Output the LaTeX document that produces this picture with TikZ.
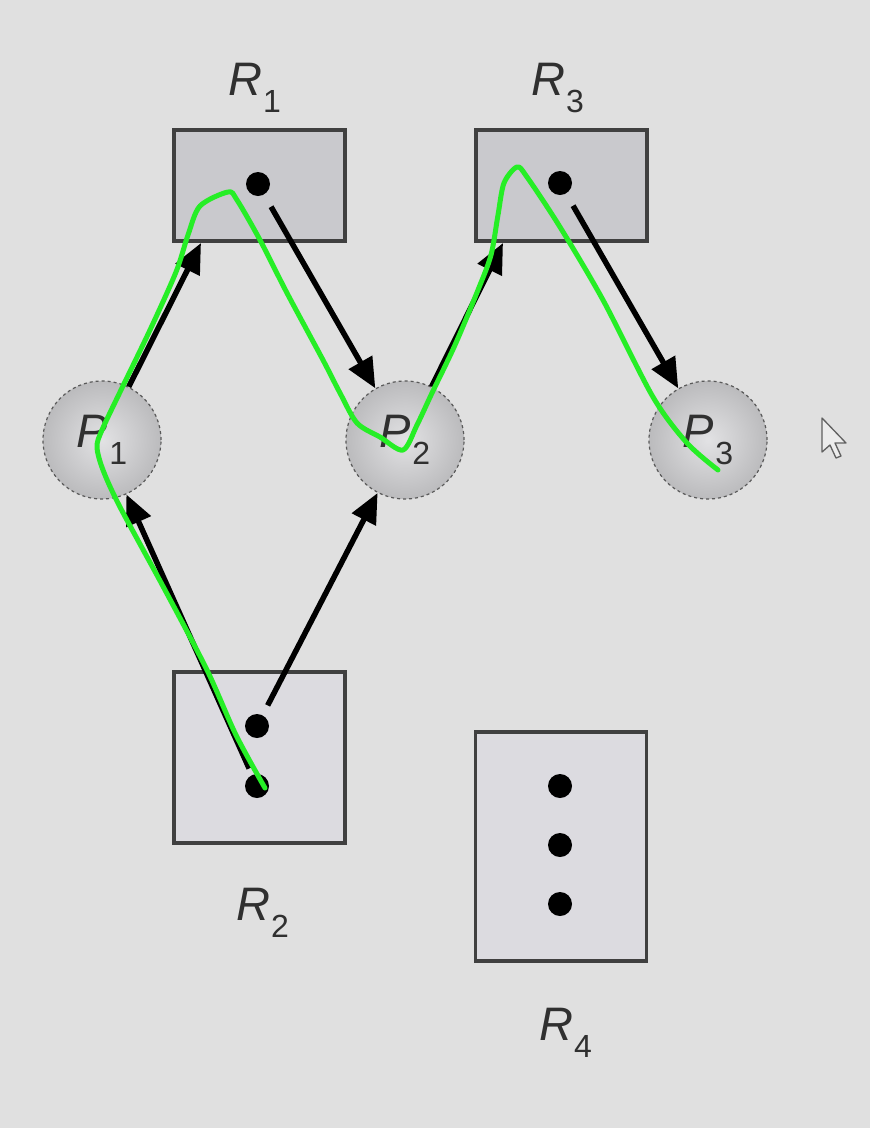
\documentclass[tikz,border=0pt]{standalone}
\usepackage{fontspec}
\setmainfont{Liberation Sans}
\usetikzlibrary{arrows.meta}
\definecolor{bg}{HTML}{E0E0E0}
\definecolor{boxdark}{HTML}{C9C9CD}
\definecolor{boxlight}{HTML}{DCDBE0}
\definecolor{edge}{HTML}{404040}
\definecolor{txt}{HTML}{303030}
\definecolor{hand}{HTML}{26EE26}
\definecolor{ballin}{HTML}{E2E2E4}
\definecolor{ballout}{HTML}{BBBBBD}
\newcommand{\lbl}[2]{\fontsize{47}{50}\selectfont\textit{#1}\kern1pt\raisebox{-17pt}{\fontsize{32}{34}\selectfont #2}}
\tikzset{
  resbox/.style={draw=edge, line width=3.5pt, rectangle, inner sep=0pt},
  dark/.style={resbox, fill=boxdark},
  light/.style={resbox, fill=boxlight},
  proc/.style={circle, minimum size=118pt, inner sep=0pt, draw=gray!70!black, dashed, line width=1.2pt,
    inner color=ballin, outer color=ballout, text=txt},
  inst/.style={circle, fill=black, minimum size=24pt, inner sep=0pt},
  lab/.style={anchor=base west, inner sep=0pt, text=txt},
  edgearrow/.style={line width=5.5pt, draw=black, -{Triangle[length=30pt,width=26pt]}},
  handline/.style={draw=hand, line width=5pt, line cap=round, line join=round}
}
\begin{document}
\begin{tikzpicture}[x=1pt,y=-1pt]
\useasboundingbox[fill=bg] (0,0) rectangle (870,1128);
% resources
\node[dark, minimum width=171pt, minimum height=111pt] (R1) at (259.5,185.5) {};
\node[dark, minimum width=171pt, minimum height=111pt] (R3) at (561.5,185.5) {};
\node[light, minimum width=171pt, minimum height=171pt] (R2) at (259.5,757.5) {};
\node[light, minimum width=171pt, minimum height=229pt] (R4) at (561,846.5) {};
% instances
\node[inst] (d1) at (258,184) {};
\node[inst] (d3) at (560,183) {};
\node[inst] (d2a) at (257,726) {};
\node[inst] (d2b) at (257,786) {};
\node[inst] (d4a) at (560,786) {};
\node[inst] (d4b) at (560,845) {};
\node[inst] (d4c) at (560,904) {};
% labels
\node[lab] (lR1) at (228,95) {\lbl{R}{1}};
\node[lab] (lR3) at (531,95) {\lbl{R}{3}};
\node[lab] (lR2) at (236,920) {\lbl{R}{2}};
\node[lab] (lR4) at (539,1040) {\lbl{R}{4}};
% processes
\node[proc] (P1) at (102,440) {\lbl{P}{1}};
\node[proc] (P2) at (405,440) {\lbl{P}{2}};
\node[proc] (P3) at (708,440) {\lbl{P}{3}};
% request entry points
\coordinate (R1in) at (201,243);
\coordinate (R3in) at (503,243);
% edges
\draw[edgearrow] (P1) -- (R1in);
\draw[edgearrow, shorten <=14pt] (d1) -- (P2);
\draw[edgearrow] (P2) -- (R3in);
\draw[edgearrow, shorten <=14pt] (d3) -- (P3);
\draw[edgearrow, shorten <=11pt] (d2a) -- (P2);
\draw[edgearrow, shorten <=7pt] (d2b) -- (P1);
% cursor
\draw[gray!75!black, fill=white!85!gray, line width=1.3pt, line join=round]
  (822,418) -- (822,452) -- (830,445) -- (836,458) -- (841,456) -- (835,443) -- (846,443) -- cycle;
% hand-drawn green stroke
\draw[handline] plot[smooth, tension=0.5] coordinates {
  (265,788) (236,735) (207,670) (165,590) (120,507) (103,470) (97,447) (102,430)
  (121,390) (150,330) (176,272) (188,235) (200,206)
  (228,192) (237,200) (260,240) (287,293) (323,360) (340,393) (357,423)
  (380,437) (403,450) (417,425) (432,393) (455,345) (478,290) (491,255) (498,215)
  (504,183) (517,167) (527,177) (560,227) (603,300) (653,397) (687,443) (718,470)
};
\end{tikzpicture}
\end{document}
